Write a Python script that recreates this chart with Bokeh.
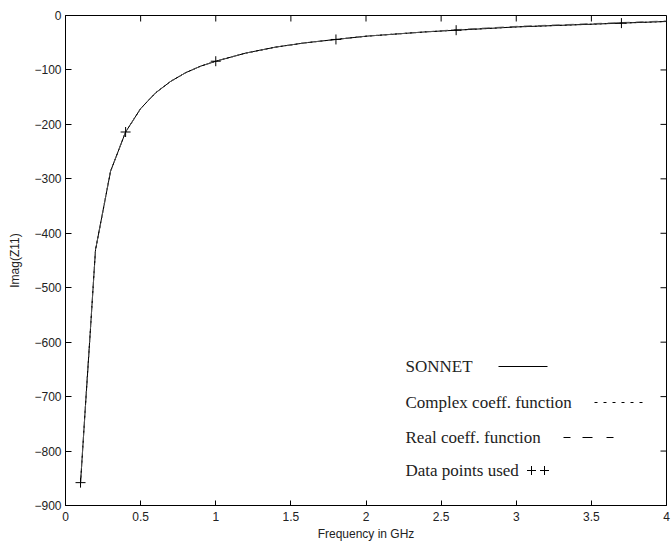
from bokeh.plotting import figure
from bokeh.models import Range1d, FixedTicker, Label
from bokeh.embed import file_html
from bokeh.resources import INLINE

# Frequency sweep (GHz) and Imag(Z11) of the SONNET simulation
freq = [0.1, 0.2, 0.3, 0.4, 0.5, 0.6, 0.7, 0.8, 0.9, 1.0, 1.2, 1.4, 1.6,
        1.8, 2.0, 2.2, 2.4, 2.6, 2.8, 3.0, 3.2, 3.4, 3.6, 3.8, 4.0]
sonnet = [-858, -430, -286, -214, -171, -142, -121, -105, -93, -84, -69, -58,
          -50, -44, -38, -34, -30, -27, -24, -21, -19, -17, -15, -13, -11]
# Fitted models (complex and real coefficient rational functions)
complex_fit = [-858, -430, -286, -214, -171, -142, -121, -105, -93, -84, -69,
               -58, -50, -44, -38, -34, -30, -27, -24, -21, -19, -17, -15,
               -13, -11]
real_fit = [-858, -430, -286, -214, -171, -142, -121, -105, -93, -84, -69,
            -58, -50, -44, -38, -34, -30, -26, -23, -20, -18, -16, -14,
            -12, -10]
# Samples used for the fit
pts_freq = [0.1, 0.4, 1.0, 1.8, 2.6, 3.7]
pts_val = [-858, -214, -84, -44, -27, -14]

x_ticks = [0, 0.5, 1, 1.5, 2, 2.5, 3, 3.5, 4]
x_tick_labels = ["0", "0.5", "1", "1.5", "2", "2.5", "3", "3.5", "4"]
y_ticks = [-900, -800, -700, -600, -500, -400, -300, -200, -100, 0]
y_tick_labels = ["\u2212900", "\u2212800", "\u2212700", "\u2212600", "\u2212500",
                 "\u2212400", "\u2212300", "\u2212200", "\u2212100", "0"]

legend_entries = ["SONNET", "Complex coeff. function", "Real coeff. function",
                  "Data points used"]

W, H = 672, 544
L, R, T, B = 65, 6, 15, 39
X0, X1, Y0, Y1 = 0.0, 4.0, -900.0, 0.0

p = figure(width=W, height=H, x_range=Range1d(X0, X1), y_range=Range1d(Y0, Y1),
           output_backend="svg", toolbar_location=None,
           min_border_left=L, min_border_right=R, min_border_top=T,
           min_border_bottom=B)
p.xgrid.visible = False
p.ygrid.visible = False
p.outline_line_color = "black"
p.outline_line_width = 1
p.background_fill_color = "white"
p.border_fill_color = "white"

tick_font = "Liberation Sans"
for ax, ticks, labels in ((p.xaxis[0], x_ticks, x_tick_labels),
                          (p.yaxis[0], y_ticks, y_tick_labels)):
    ax.ticker = FixedTicker(ticks=ticks)
    ax.major_label_overrides = dict(zip(ticks, labels))
    ax.major_tick_in = 6
    ax.major_tick_out = 0
    ax.minor_tick_line_color = None
    ax.axis_line_color = "black"
    ax.major_tick_line_color = "black"
    ax.major_label_text_font = tick_font
    ax.major_label_text_font_size = "12px"
    ax.major_label_text_color = "#222222"
    ax.axis_label_text_font = tick_font
    ax.axis_label_text_font_size = "12px"
    ax.axis_label_text_font_style = "normal"
    ax.axis_label_text_color = "#222222"

p.xaxis.axis_label = "Frequency in GHz"
p.xaxis.major_tick_in = 5
p.xaxis.major_label_standoff = 6
p.xaxis.axis_label_standoff = 3
p.yaxis.axis_label = "Imag(Z11)"
p.yaxis.major_label_standoff = 4
p.yaxis.axis_label_standoff = 9

# Frame size in pixels, for converting pixel lengths to data lengths
fw = W - L - R
fh = H - T - B
px_x = (X1 - X0) / fw
px_y = (Y1 - Y0) / fh

# Mirrored inward ticks along the top and right edges of the frame
tick_len = 6
p.segment(x0=x_ticks, y0=[Y1] * len(x_ticks), x1=x_ticks,
          y1=[Y1 - tick_len * px_y] * len(x_ticks),
          line_color="black", line_width=1)
p.segment(x0=[X1] * len(y_ticks), y0=y_ticks,
          x1=[X1 - tick_len * px_x] * len(y_ticks), y1=y_ticks,
          line_color="black", line_width=1)

p.line(freq, sonnet, line_color="black", line_width=1)
p.line(freq, complex_fit, line_color="black", line_width=1, line_dash="2 3")
p.line(freq, real_fit, line_color="#555555", line_width=1, line_dash="8 6")
p.scatter(pts_freq, pts_val, marker="cross", size=10, line_color="black",
          line_width=1)


# Legend, laid out in screen pixels and converted to data space
def dx(px):
    return X0 + (px - L) * px_x


def dy(py):
    return Y1 - (py - T) * px_y


rows = [366, 402, 437, 470]
for txt, ry in zip(legend_entries, rows):
    p.add_layout(Label(x=dx(405), y=dy(ry), text=txt,
                       text_font="Liberation Serif", text_font_size="17px",
                       text_color="#222222", text_baseline="middle",
                       text_align="left"))

p.line([dx(498), dx(547)], [dy(rows[0])] * 2, line_color="black", line_width=1)
p.line([dx(594), dx(644)], [dy(rows[1])] * 2, line_color="black", line_width=1,
       line_dash="3 6")
p.line([dx(563), dx(613)], [dy(rows[2])] * 2, line_color="black", line_width=1,
       line_dash="7 12 10 14")
p.scatter([dx(531), dx(544)], [dy(rows[3])] * 2, marker="cross", size=9,
          line_color="black", line_width=1)

open("out.html", "w").write(file_html(p, INLINE))
